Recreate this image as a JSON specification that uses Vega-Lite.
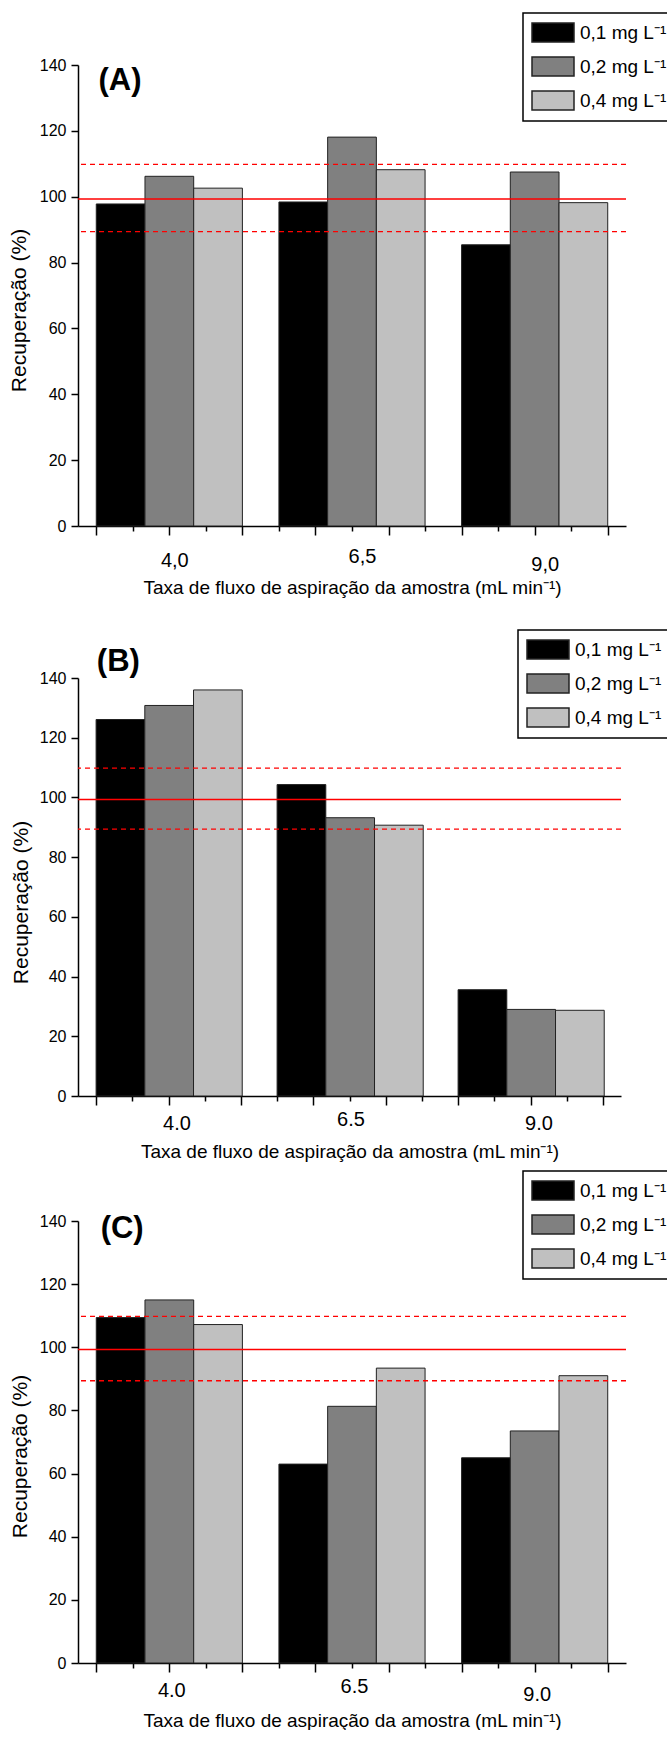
{
  "$schema": "https://vega.github.io/schema/vega-lite/v6.json",
  "background": "white",
  "padding": {"left": 8, "top": 12, "right": 0, "bottom": 0},
  "spacing": 32,
  "resolve": {"scale": {"color": "independent"}, "legend": {"color": "independent"}},
  "config": {
    "view": {"stroke": null},
    "font": "Liberation Sans",
    "axis": {
      "grid": false,
      "domainColor": "#000",
      "domainWidth": 1.5,
      "tickColor": "#000",
      "tickWidth": 1.5,
      "labelColor": "#000",
      "titleColor": "#000",
      "labelFont": "Liberation Sans",
      "labelFontSize": 16,
      "titleFont": "Liberation Sans",
      "titleFontWeight": "normal"
    },
    "legend": {
      "title": null,
      "orient": "none",
      "symbolType": "M-1,-0.9H3V0.9H-1Z",
      "symbolSize": 441,
      "symbolStrokeColor": "#222",
      "symbolStrokeWidth": 1.5,
      "symbolOpacity": 1,
      "labelFont": "Liberation Sans",
      "labelFontSize": 19,
      "labelColor": "#000",
      "labelOffset": 26,
      "rowPadding": 9,
      "padding": 8,
      "strokeColor": "#000",
      "strokeWidth": 1.5,
      "fillColor": "white"
    }
  },
  "datasets": {
    "A": [
      {"taxa": 4.0, "conc": "0,1 mg L⁻¹", "rec": 97.8},
      {"taxa": 4.0, "conc": "0,2 mg L⁻¹", "rec": 106.2},
      {"taxa": 4.0, "conc": "0,4 mg L⁻¹", "rec": 102.6},
      {"taxa": 6.5, "conc": "0,1 mg L⁻¹", "rec": 98.4},
      {"taxa": 6.5, "conc": "0,2 mg L⁻¹", "rec": 118.1},
      {"taxa": 6.5, "conc": "0,4 mg L⁻¹", "rec": 108.2},
      {"taxa": 9.0, "conc": "0,1 mg L⁻¹", "rec": 85.4},
      {"taxa": 9.0, "conc": "0,2 mg L⁻¹", "rec": 107.5},
      {"taxa": 9.0, "conc": "0,4 mg L⁻¹", "rec": 98.2}
    ],
    "B": [
      {"taxa": 4.0, "conc": "0,1 mg L⁻¹", "rec": 126.1},
      {"taxa": 4.0, "conc": "0,2 mg L⁻¹", "rec": 130.8},
      {"taxa": 4.0, "conc": "0,4 mg L⁻¹", "rec": 136.0},
      {"taxa": 6.5, "conc": "0,1 mg L⁻¹", "rec": 104.3},
      {"taxa": 6.5, "conc": "0,2 mg L⁻¹", "rec": 93.2},
      {"taxa": 6.5, "conc": "0,4 mg L⁻¹", "rec": 90.7},
      {"taxa": 9.0, "conc": "0,1 mg L⁻¹", "rec": 35.6},
      {"taxa": 9.0, "conc": "0,2 mg L⁻¹", "rec": 29.0},
      {"taxa": 9.0, "conc": "0,4 mg L⁻¹", "rec": 28.7}
    ],
    "C": [
      {"taxa": 4.0, "conc": "0,1 mg L⁻¹", "rec": 109.4},
      {"taxa": 4.0, "conc": "0,2 mg L⁻¹", "rec": 115.0},
      {"taxa": 4.0, "conc": "0,4 mg L⁻¹", "rec": 107.2},
      {"taxa": 6.5, "conc": "0,1 mg L⁻¹", "rec": 63.0},
      {"taxa": 6.5, "conc": "0,2 mg L⁻¹", "rec": 81.3},
      {"taxa": 6.5, "conc": "0,4 mg L⁻¹", "rec": 93.4},
      {"taxa": 9.0, "conc": "0,1 mg L⁻¹", "rec": 65.0},
      {"taxa": 9.0, "conc": "0,2 mg L⁻¹", "rec": 73.5},
      {"taxa": 9.0, "conc": "0,4 mg L⁻¹", "rec": 91.0}
    ]
  },
  "vconcat": [
    {
      "width": 548,
      "height": 461,
      "data": {"name": "A"},
      "layer": [
        {
          "mark": {"type": "bar", "stroke": "#222", "strokeWidth": 1},
          "encoding": {
            "x": {"field": "taxa", "type": "ordinal", "scale": {"paddingInner": 0.2, "paddingOuter": 0.1}, "axis": null},
            "xOffset": {"field": "conc", "type": "nominal", "scale": {"paddingInner": 0, "paddingOuter": 0}},
            "y": {
              "field": "rec", "type": "quantitative",
              "scale": {"domain": [0, 140], "nice": false},
              "axis": {
                "title": "Recuperação (%)",
                "values": [0, 10, 20, 30, 40, 50, 60, 70, 80, 90, 100, 110, 120, 130, 140],
                "labelExpr": "datum.value % 20 === 0 ? datum.label : ''",
                "tickSize": {"condition": {"test": "datum.value % 20 === 0", "value": 7}, "value": 4},
                "labelPadding": 5,
                "titleFontSize": 21,
                "titleAngle": 270,
                "titleBaseline": "middle",
                "titleAlign": "center",
                "titleX": -59,
                "titleY": 245
              }
            },
            "color": {
              "field": "conc", "type": "nominal",
              "scale": {"domain": ["0,1 mg L⁻¹", "0,2 mg L⁻¹", "0,4 mg L⁻¹"], "range": ["#000000", "#808080", "#c0c0c0"]},
              "legend": {"legendX": 445, "legendY": -52}
            }
          }
        },
        {"data": {"values": [{}]}, "mark": {"type": "rule", "color": "#ff0000", "strokeWidth": 1.5}, "encoding": {"y": {"datum": 99.3}}},
        {"data": {"values": [{}]}, "mark": {"type": "rule", "color": "#ff0000", "strokeWidth": 1.3, "strokeDash": [5, 4]}, "encoding": {"y": {"datum": 109.8}}},
        {"data": {"values": [{}]}, "mark": {"type": "rule", "color": "#ff0000", "strokeWidth": 1.3, "strokeDash": [5, 4]}, "encoding": {"y": {"datum": 89.4}}},
        {
          "data": {"values": [{}]},
          "mark": {"type": "text", "text": "(A)", "font": "Liberation Sans", "fontWeight": "bold", "fontSize": 31, "align": "left", "baseline": "middle", "color": "#000"},
          "encoding": {
            "x": {"datum": 3.03, "type": "quantitative", "scale": {"domain": [2.75, 10.25], "nice": false, "zero": false}, "axis": null},
            "y": {"datum": 135}
          }
        },
        {
          "mark": {"type": "point", "opacity": 0},
          "encoding": {
            "x": {
              "field": "taxa", "type": "quantitative",
              "scale": {"domain": [2.75, 10.25], "nice": false, "zero": false},
              "axis": {
                "orient": "bottom",
                "title": "Taxa de fluxo de aspiração da amostra (mL min⁻¹)",
                "values": [3, 3.5, 4, 4.5, 5, 5.5, 6, 6.5, 7, 7.5, 8, 8.5, 9, 9.5, 10],
                "labelExpr": "datum.value == 4 ? '4,0' : datum.value == 6.5 ? '6,5' : datum.value == 9 ? '9,0' : ''",
                "tickSize": {"condition": {"test": "datum.value % 1 === 0", "value": 9}, "value": 5},
                "labelOffset": {"condition": {"test": "datum.value == 4", "value": 5}, "value": 10},
                "labelPadding": {"condition": {"test": "datum.value == 9", "value": 19}, "value": 15},
                "labelFontSize": 20,
                "labelFlush": false,
                "labelOverlap": false,
                "titleFontSize": 19,
                "titleBaseline": "middle",
                "titleY": 61
              }
            }
          }
        }
      ],
      "resolve": {"scale": {"x": "independent"}, "axis": {"x": "independent"}}
    },
    {
      "spacing": 9,
      "resolve": {"scale": {"color": "independent"}, "legend": {"color": "independent"}},
      "vconcat": [
        {
          "width": 543,
          "height": 418,
          "data": {"name": "B"},
          "layer": [
            {
              "mark": {"type": "bar", "stroke": "#222", "strokeWidth": 1},
              "encoding": {
                "x": {"field": "taxa", "type": "ordinal", "scale": {"paddingInner": 0.2, "paddingOuter": 0.1}, "axis": null},
                "xOffset": {"field": "conc", "type": "nominal", "scale": {"paddingInner": 0, "paddingOuter": 0}},
                "y": {
                  "field": "rec", "type": "quantitative",
                  "scale": {"domain": [0, 140], "nice": false},
                  "axis": {
                    "title": "Recuperação (%)",
                    "values": [0, 10, 20, 30, 40, 50, 60, 70, 80, 90, 100, 110, 120, 130, 140],
                    "labelExpr": "datum.value % 20 === 0 ? datum.label : ''",
                    "tickSize": {"condition": {"test": "datum.value % 20 === 0", "value": 7}, "value": 4},
                    "labelPadding": 5,
                    "titleFontSize": 21,
                    "titleAngle": 270,
                    "titleBaseline": "middle",
                    "titleAlign": "center",
                    "titleX": -57,
                    "titleY": 224
                  }
                },
                "color": {
                  "field": "conc", "type": "nominal",
                  "scale": {"domain": ["0,1 mg L⁻¹", "0,2 mg L⁻¹", "0,4 mg L⁻¹"], "range": ["#000000", "#808080", "#c0c0c0"]},
                  "legend": {"legendX": 440, "legendY": -48}
                }
              }
            },
            {"data": {"values": [{}]}, "mark": {"type": "rule", "color": "#ff0000", "strokeWidth": 1.5}, "encoding": {"y": {"datum": 99.3}}},
            {"data": {"values": [{}]}, "mark": {"type": "rule", "color": "#ff0000", "strokeWidth": 1.3, "strokeDash": [5, 4]}, "encoding": {"y": {"datum": 109.8}}},
            {"data": {"values": [{}]}, "mark": {"type": "rule", "color": "#ff0000", "strokeWidth": 1.3, "strokeDash": [5, 4]}, "encoding": {"y": {"datum": 89.4}}},
            {
              "data": {"values": [{}]},
              "mark": {"type": "text", "text": "(B)", "font": "Liberation Sans", "fontWeight": "bold", "fontSize": 31, "align": "left", "baseline": "middle", "color": "#000"},
              "encoding": {
                "x": {"datum": 3.01, "type": "quantitative", "scale": {"domain": [2.75, 10.25], "nice": false, "zero": false}, "axis": null},
                "y": {"datum": 145.2}
              }
            },
            {
              "mark": {"type": "point", "opacity": 0},
              "encoding": {
                "x": {
                  "field": "taxa", "type": "quantitative",
                  "scale": {"domain": [2.75, 10.25], "nice": false, "zero": false},
                  "axis": {
                    "orient": "bottom",
                    "title": "Taxa de fluxo de aspiração da amostra (mL min⁻¹)",
                    "values": [3, 3.5, 4, 4.5, 5, 5.5, 6, 6.5, 7, 7.5, 8, 8.5, 9, 9.5, 10],
                    "labelExpr": "datum.value == 4 ? '4.0' : datum.value == 6.5 ? '6.5' : datum.value == 9 ? '9.0' : ''",
                    "tickSize": {"condition": {"test": "datum.value % 1 === 0", "value": 9}, "value": 5},
                    "labelOffset": {"condition": {"test": "datum.value == 6.5", "value": 1}, "value": 8},
                    "labelPadding": 8,
                    "labelFontSize": 20,
                    "labelFlush": false,
                    "labelOverlap": false,
                    "titleFontSize": 19,
                    "titleBaseline": "middle",
                    "titleY": 55
                  }
                }
              }
            }
          ],
          "resolve": {"scale": {"x": "independent"}, "axis": {"x": "independent"}}
        },
        {
          "width": 548,
          "height": 442,
          "data": {"name": "C"},
          "layer": [
            {
              "mark": {"type": "bar", "stroke": "#222", "strokeWidth": 1},
              "encoding": {
                "x": {"field": "taxa", "type": "ordinal", "scale": {"paddingInner": 0.2, "paddingOuter": 0.1}, "axis": null},
                "xOffset": {"field": "conc", "type": "nominal", "scale": {"paddingInner": 0, "paddingOuter": 0}},
                "y": {
                  "field": "rec", "type": "quantitative",
                  "scale": {"domain": [0, 140], "nice": false},
                  "axis": {
                    "title": "Recuperação (%)",
                    "values": [0, 10, 20, 30, 40, 50, 60, 70, 80, 90, 100, 110, 120, 130, 140],
                    "labelExpr": "datum.value % 20 === 0 ? datum.label : ''",
                    "tickSize": {"condition": {"test": "datum.value % 20 === 0", "value": 7}, "value": 4},
                    "labelPadding": 5,
                    "titleFontSize": 21,
                    "titleAngle": 270,
                    "titleBaseline": "middle",
                    "titleAlign": "center",
                    "titleX": -58,
                    "titleY": 235
                  }
                },
                "color": {
                  "field": "conc", "type": "nominal",
                  "scale": {"domain": ["0,1 mg L⁻¹", "0,2 mg L⁻¹", "0,4 mg L⁻¹"], "range": ["#000000", "#808080", "#c0c0c0"]},
                  "legend": {"legendX": 445, "legendY": -50}
                }
              }
            },
            {"data": {"values": [{}]}, "mark": {"type": "rule", "color": "#ff0000", "strokeWidth": 1.5}, "encoding": {"y": {"datum": 99.3}}},
            {"data": {"values": [{}]}, "mark": {"type": "rule", "color": "#ff0000", "strokeWidth": 1.3, "strokeDash": [5, 4]}, "encoding": {"y": {"datum": 109.8}}},
            {"data": {"values": [{}]}, "mark": {"type": "rule", "color": "#ff0000", "strokeWidth": 1.3, "strokeDash": [5, 4]}, "encoding": {"y": {"datum": 89.4}}},
            {
              "data": {"values": [{}]},
              "mark": {"type": "text", "text": "(C)", "font": "Liberation Sans", "fontWeight": "bold", "fontSize": 31, "align": "left", "baseline": "middle", "color": "#000"},
              "encoding": {
                "x": {"datum": 3.06, "type": "quantitative", "scale": {"domain": [2.75, 10.25], "nice": false, "zero": false}, "axis": null},
                "y": {"datum": 137.6}
              }
            },
            {
              "mark": {"type": "point", "opacity": 0},
              "encoding": {
                "x": {
                  "field": "taxa", "type": "quantitative",
                  "scale": {"domain": [2.75, 10.25], "nice": false, "zero": false},
                  "axis": {
                    "orient": "bottom",
                    "title": "Taxa de fluxo de aspiração da amostra (mL min⁻¹)",
                    "values": [3, 3.5, 4, 4.5, 5, 5.5, 6, 6.5, 7, 7.5, 8, 8.5, 9, 9.5, 10],
                    "labelExpr": "datum.value == 4 ? '4.0' : datum.value == 6.5 ? '6.5' : datum.value == 9 ? '9.0' : ''",
                    "tickSize": {"condition": {"test": "datum.value % 1 === 0", "value": 9}, "value": 5},
                    "labelOffset": 2,
                    "labelPadding": {"condition": {"test": "datum.value == 9", "value": 12}, "value": 8},
                    "labelFontSize": 20,
                    "labelFlush": false,
                    "labelOverlap": false,
                    "titleFontSize": 19,
                    "titleBaseline": "middle",
                    "titleY": 57
                  }
                }
              }
            }
          ],
          "resolve": {"scale": {"x": "independent"}, "axis": {"x": "independent"}}
        }
      ]
    }
  ]
}
